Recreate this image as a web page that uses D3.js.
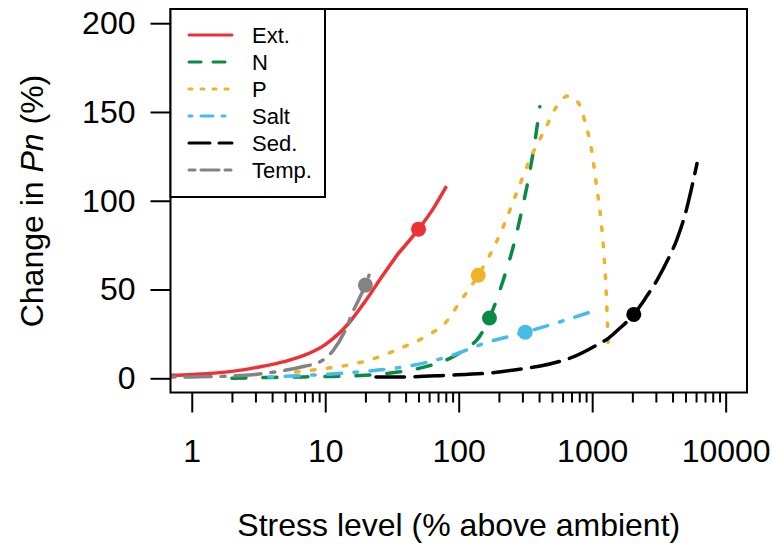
<!DOCTYPE html>
<html>
<head>
<meta charset="utf-8">
<script src="https://cdn.jsdelivr.net/npm/d3@7"></script>
<style>
	body { margin: 0; background: #fff; }
	svg { display: block; font-family: 'Liberation Sans', Arial, Helvetica, sans-serif; }
</style>
</head>
<body>
<div id="chart"></div>
<script>
// series, in legend order
const seriesNames = ['Ext.', 'N', 'P', 'Salt', 'Sed.', 'Temp.'];
const seriesColors = ['#ee3134', '#0b8a45', '#efb325', '#47bbea', '#000000', '#838383'];

// curve values (x = % above ambient, y = change in Pn %)
const extX = [0.7, 1, 2, 3, 5, 7, 10, 15, 20, 27, 35, 50, 65, 80];
const extY = [1.7, 2.2, 3.9, 6, 9.5, 13, 19, 31, 43.5, 58, 70, 84, 96, 107.5];

const nX = [2, 3, 5, 7, 10, 20, 35, 55, 90, 115, 140, 170, 215, 260, 300, 340, 375, 405];
const nY = [0, 0.3, 0.6, 0.8, 1, 1.7, 3.5, 6.3, 12, 17, 22.5, 34, 55, 76, 96, 116, 135, 153];

const pX = [6, 10, 15, 23, 36, 58, 81, 102, 140, 205, 270, 345, 455, 540, 660, 790, 880, 990, 1080, 1165, 1230, 1275, 1320];
const pY = [3.5, 5.5, 7.5, 11, 16.7, 24, 32, 43, 58, 81.5, 104, 124, 142, 153, 159, 155, 145, 128.5, 108, 89, 68, 48, 16];

const saltX = [3.8, 7, 12, 20, 32, 58, 90, 160, 315, 480, 940];
const saltY = [0.7, 1.6, 2.6, 3.9, 5.5, 9, 13, 20, 26, 30, 37];

const sedX = [24, 40, 80, 170, 310, 400, 600, 720, 1100, 1320, 1600, 2050, 2500, 3100, 3700, 4300, 5000, 5550, 6100];
const sedY = [0.7, 0.8, 1.7, 3, 5.5, 6.8, 10, 12, 19, 22.5, 28, 36, 45, 56, 67, 78, 93, 107, 121];

const tempX = [0.7, 1, 2, 3, 5, 7, 9, 11.5, 14.5, 16, 18, 20, 21.3];
const tempY = [0.7, 0.8, 1.3, 2.2, 4.5, 6.8, 9, 15.8, 29, 37, 45, 52.5, 58];

// one highlighted point on each curve
const pointX = [50, 170, 140, 315, 2050, 20];
const pointY = [84, 34, 58, 26, 36, 52.5];

// the Ext. curve bends sharply here
const extBreak = 35;

const xTicks = [1, 10, 100, 1000, 10000];
const yTicks = [0, 50, 100, 150, 200];

const seriesX = [extX, nX, pX, saltX, sedX, tempX];
const seriesY = [extY, nY, pY, saltY, sedY, tempY];

// dash patterns (plot lines / legend lines)
const plotDash = [null, '14 17', '3.5 12.5', '3.5 12.5 14 12.5', '28.5 10.5', '4 10 26 10'];
const legendDash = [null, '12 12', '3 9', '3 9 12 9', '21 9', '6 6 18 6'];

const width = 772;
const height = 546;
const plot = { left: 170.5, top: 9, right: 747, bottom: 392.5 };

const svg = d3.select('#chart').append('svg')
	.attr('width', width)
	.attr('height', height);

const x = d3.scaleLog()
	.domain([0.693, 14450])
	.range([plot.left, plot.right]);

const y = d3.scaleLinear()
	.domain([-8, 208])
	.range([plot.bottom, plot.top]);

svg.append('defs').append('clipPath')
	.attr('id', 'plot-clip')
	.append('rect')
	.attr('x', plot.left)
	.attr('y', plot.top)
	.attr('width', plot.right - plot.left)
	.attr('height', plot.bottom - plot.top);

// axes
const yAxis = svg.append('g')
	.attr('transform', `translate(${plot.left},0)`)
	.call(d3.axisLeft(y).tickValues(yTicks).tickSize(20).tickSizeOuter(0).tickPadding(15));

const xAxis = svg.append('g')
	.attr('transform', `translate(0,${plot.bottom})`)
	.call(d3.axisBottom(x).tickValues(xTicks).tickSize(20).tickSizeOuter(0).tickPadding(27)
		.tickFormat(d3.format('d')));

const minorTicks = [];
[1, 10, 100, 1000].forEach(decade => {
	for (let k = 2; k <= 9; k++) minorTicks.push(k * decade);
});

const xMinor = svg.append('g')
	.attr('transform', `translate(0,${plot.bottom})`)
	.call(d3.axisBottom(x).tickValues(minorTicks).tickSize(10).tickSizeOuter(0).tickFormat(''));

[yAxis, xAxis, xMinor].forEach(axis => {
	axis.select('.domain').remove();
	axis.selectAll('line').attr('stroke', '#000').attr('stroke-width', 2);
	axis.selectAll('text')
		.attr('fill', '#000')
		.style('font-size', '32px')
		.style('font-family', "'Liberation Sans', Arial, sans-serif");
});

// curves
const line = d3.line()
	.x(d => x(d[0]))
	.y(d => y(d[1]))
	.curve(d3.curveMonotoneX);

const curves = svg.append('g').attr('clip-path', 'url(#plot-clip)');

seriesNames.forEach((name, i) => {
	const pts = seriesX[i].map((v, j) => [v, seriesY[i][j]]);
	let d = line(pts);
	if (i === 0) {
		// solid line: draw as two pieces meeting at the bend
		d = line(pts.filter(p => p[0] <= extBreak)) + line(pts.filter(p => p[0] >= extBreak));
	}
	curves.append('path')
		.attr('d', d)
		.attr('fill', 'none')
		.attr('stroke', seriesColors[i])
		.attr('stroke-width', 3.5)
		.attr('stroke-linecap', 'round')
		.attr('stroke-linejoin', 'round')
		.attr('stroke-dasharray', plotDash[i]);
});

curves.selectAll('circle')
	.data(seriesNames)
	.join('circle')
	.attr('cx', (d, i) => x(pointX[i]))
	.attr('cy', (d, i) => y(pointY[i]))
	.attr('r', 7.5)
	.attr('fill', (d, i) => seriesColors[i]);

// frame
svg.append('rect')
	.attr('x', plot.left)
	.attr('y', plot.top)
	.attr('width', plot.right - plot.left)
	.attr('height', plot.bottom - plot.top)
	.attr('fill', 'none')
	.attr('stroke', '#000')
	.attr('stroke-width', 2);

// legend
const legend = svg.append('g');

legend.append('rect')
	.attr('x', plot.left)
	.attr('y', plot.top)
	.attr('width', 325 - plot.left)
	.attr('height', 197 - plot.top)
	.attr('fill', '#fff')
	.attr('stroke', '#000')
	.attr('stroke-width', 2);

const rows = legend.selectAll('g.row')
	.data(seriesNames)
	.join('g')
	.attr('class', 'row')
	.attr('transform', (d, i) => `translate(0,${35 + i * 27})`);

rows.append('line')
	.attr('x1', 189)
	.attr('x2', 232)
	.attr('stroke', (d, i) => seriesColors[i])
	.attr('stroke-width', 3)
	.attr('stroke-linecap', 'round')
	.attr('stroke-dasharray', (d, i) => legendDash[i]);

rows.append('text')
	.attr('x', 252)
	.attr('dy', '0.36em')
	.style('font-size', '22px')
	.text(d => d);

// axis titles
svg.append('text')
	.attr('x', (plot.left + plot.right) / 2)
	.attr('y', 536)
	.attr('text-anchor', 'middle')
	.style('font-size', '32px')
	.text('Stress level (% above ambient)');

const yTitle = svg.append('text')
	.attr('transform', 'translate(43,201) rotate(-90)')
	.attr('text-anchor', 'middle')
	.style('font-size', '32px');

yTitle.append('tspan').text('Change in ');
yTitle.append('tspan').style('font-style', 'italic').text('Pn');
yTitle.append('tspan').text(' (%)');
</script>
</body>
</html>
